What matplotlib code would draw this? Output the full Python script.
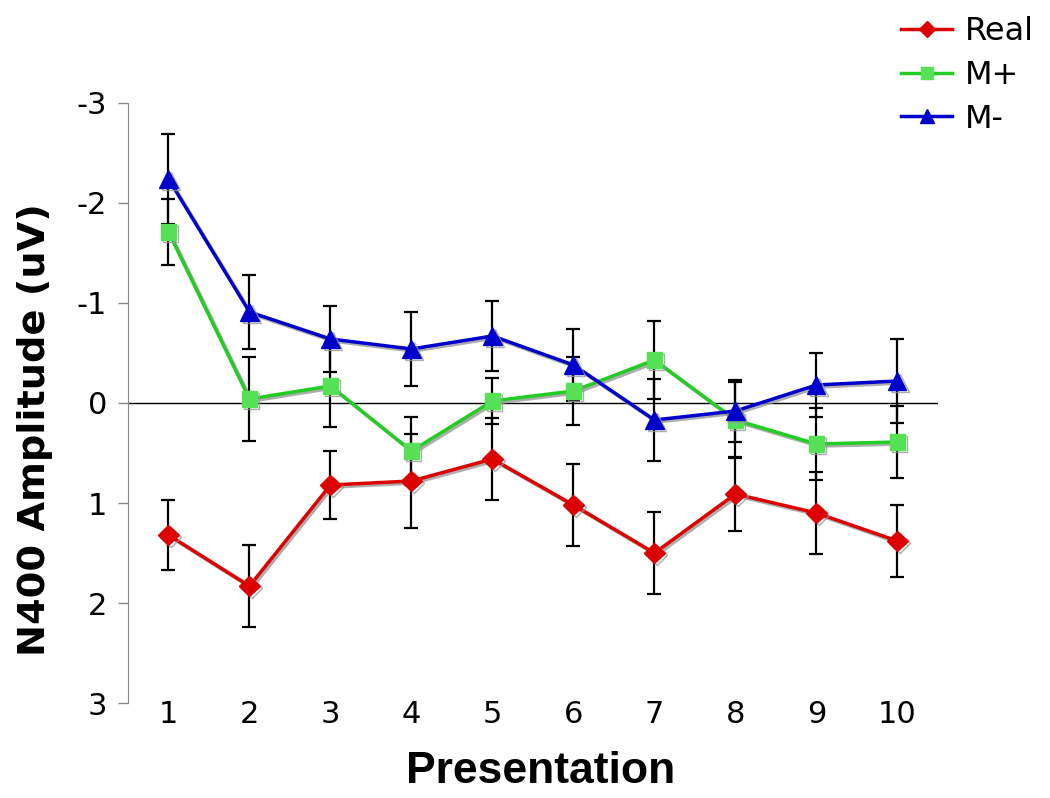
import matplotlib
matplotlib.use("Agg")
import matplotlib.pyplot as plt
import matplotlib.patheffects as pe
from matplotlib.lines import Line2D

# 数据
presentation = [1, 2, 3, 4, 5, 6, 7, 8, 9, 10]
real = [1.32, 1.83, 0.82, 0.78, 0.56, 1.02, 1.50, 0.91, 1.10, 1.38]
real_err = [0.35, 0.41, 0.34, 0.47, 0.41, 0.41, 0.41, 0.37, 0.41, 0.36]
m_plus = [-1.71, -0.04, -0.17, 0.48, -0.02, -0.12, -0.43, 0.17, 0.41, 0.39]
m_plus_err = [0.33, 0.42, 0.41, 0.34, 0.23, 0.34, 0.39, 0.38, 0.36, 0.36]
m_minus = [-2.24, -0.91, -0.64, -0.54, -0.67, -0.38, 0.17, 0.08, -0.18, -0.22]
m_minus_err = [0.45, 0.37, 0.33, 0.37, 0.35, 0.36, 0.41, 0.31, 0.32, 0.42]
y_ticks = [-3, -2, -1, 0, 1, 2, 3]

plt.rcParams['axes.unicode_minus'] = False
plt.rcParams['font.family'] = ['DejaVu Sans']

fig = plt.figure(figsize=(10.5, 7.98), dpi=100)
ax = fig.add_axes([0.1219, 0.119, 0.7714, 0.752])

shadow = [pe.SimpleLineShadow(offset=(1.5, -1.5), shadow_color='#999999', alpha=0.8), pe.Normal()]

series = [
    ("Real", real, real_err, '#DD0000', '#DD0000', 'D', 10.5),
    ("M+", m_plus, m_plus_err, '#22CC22', '#55E055', 's', 11),
    ("M-", m_minus, m_minus_err, '#0000CC', '#0000CC', '^', 13),
]

handles = []
for name, vals, errs, lc, mc, mk, ms in series:
    ax.errorbar(presentation, vals, yerr=errs, fmt='none', ecolor='black',
                elinewidth=1.6, capsize=5, capthick=1.6, zorder=2)
    ax.plot(presentation, vals, color=lc, lw=2.5, marker=mk, ms=ms,
            markerfacecolor=mc, markeredgecolor=mc, zorder=3, path_effects=shadow)
    handles.append(Line2D([], [], color=lc, lw=2.5, marker=mk, ms=ms * 0.8,
                          markerfacecolor=mc, markeredgecolor=mc, label=name))

ax.axhline(0, color='black', lw=1, zorder=1)

ax.set_xlim(0.5, 10.5)
ax.set_ylim(3, -3)
ax.set_yticks(y_ticks)
ax.set_xticks(presentation)
ax.tick_params(axis='y', direction='out', length=7, width=1, color='#888888',
               labelsize=22, pad=8)
ax.tick_params(axis='x', length=0, labelsize=22, pad=-2)

for s in ['top', 'right', 'bottom']:
    ax.spines[s].set_visible(False)
ax.spines['left'].set_color('#888888')

ax.set_ylabel("N400 Amplitude (uV)", fontsize=27.5, fontweight='bold')
ax.yaxis.set_label_coords(-0.093, 0.455)
ax.set_xlabel("Presentation", fontsize=32, fontweight='bold', family='Liberation Sans')
ax.xaxis.set_label_coords(0.509, -0.08)

fig.legend(handles=handles, loc='upper right', bbox_to_anchor=(1.0, 1.0),
           frameon=False, fontsize=23, handlelength=1.6, handletextpad=0.4,
           labelspacing=0.4, borderaxespad=0.1)

fig.savefig("out.png", dpi=100)
